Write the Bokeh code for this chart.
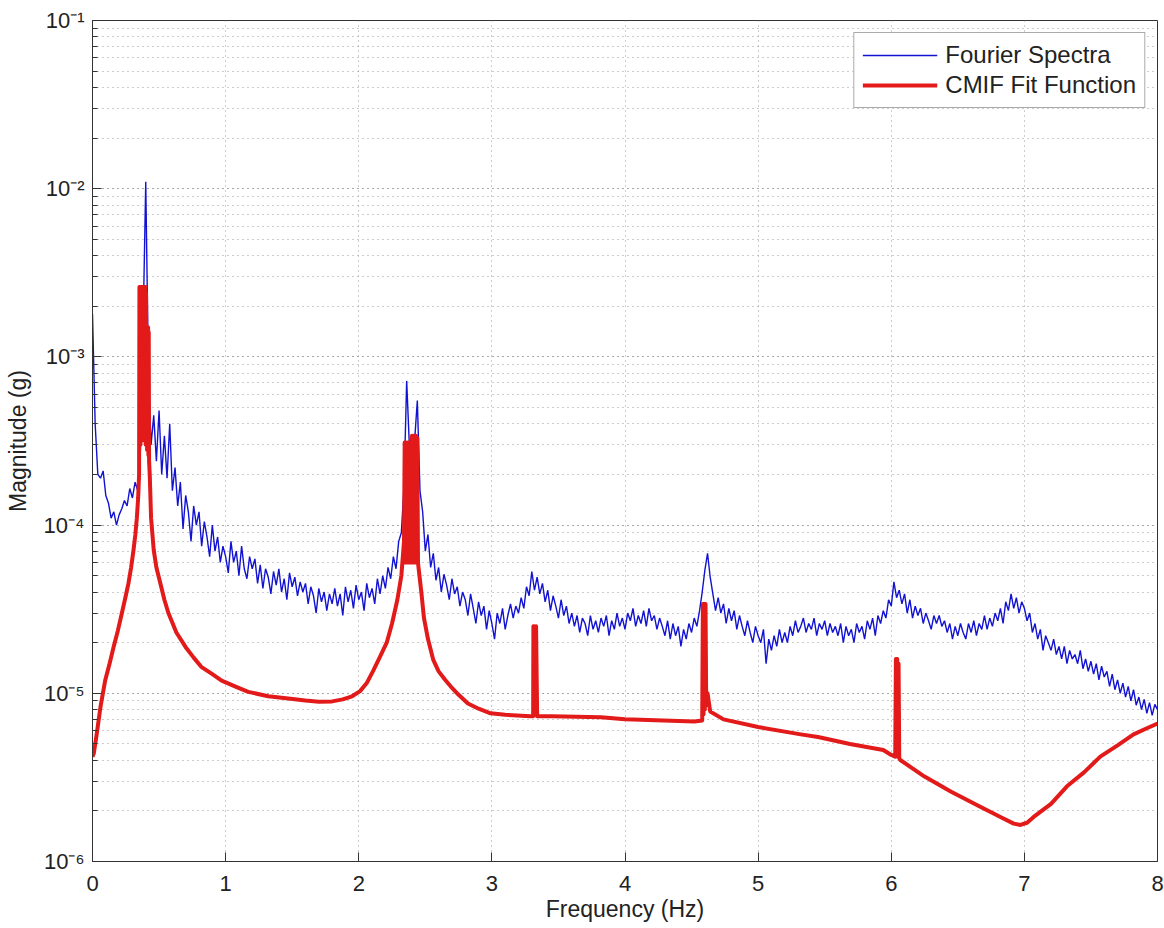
from bokeh.plotting import figure
from bokeh.models import (Range1d, CustomJSTickFormatter, Legend, LegendItem,
                          FixedTicker, LogTicker)
from bokeh.embed import file_html
from bokeh.resources import INLINE

# ---------------- data ----------------
x_tick_values = [0, 1, 2, 3, 4, 5, 6, 7, 8]
fourier_step_hz = 0.02
fourier_mag = [
    1.8e-3, 4.0e-4, 2.0e-4, 1.9e-4, 2.1e-4, 1.5e-4, 1.35e-4, 1.1e-4, 1.2e-4, 1.0e-4,
    1.15e-4, 1.25e-4, 1.4e-4, 1.3e-4, 1.65e-4, 1.45e-4, 1.8e-4, 1.6e-4, 2.8e-4, 1.5e-3,
    1.1e-2, 8.0e-4, 3.0e-4, 4.5e-4, 2.4e-4, 4.8e-4, 2.0e-4, 3.4e-4, 1.9e-4, 4.0e-4,
    1.6e-4, 2.2e-4, 1.3e-4, 1.8e-4, 9.5e-5, 1.5e-4, 1.2e-4, 8.0e-5, 1.3e-4, 1.0e-4,
    1.2e-4, 7.5e-5, 1.05e-4, 8.5e-5, 6.5e-5, 1.0e-4, 7.0e-5, 8.5e-5, 6.0e-5, 7.5e-5,
    6.5e-5, 5.2e-5, 8.0e-5, 6.0e-5, 7.0e-5, 5.0e-5, 7.5e-5, 5.5e-5, 4.8e-5, 6.5e-5,
    5.5e-5, 6.3e-5, 4.5e-5, 5.8e-5, 4.2e-5, 5.5e-5, 4.9e-5, 3.9e-5, 5.3e-5, 4.4e-5,
    5.5e-5, 4.0e-5, 4.8e-5, 3.6e-5, 5.2e-5, 4.3e-5, 4.9e-5, 3.8e-5, 4.6e-5, 4.0e-5,
    4.5e-5, 3.4e-5, 4.3e-5, 3.8e-5, 3.0e-5, 4.2e-5, 3.5e-5, 4.0e-5, 3.1e-5, 3.9e-5,
    3.4e-5, 4.2e-5, 3.3e-5, 3.9e-5, 2.9e-5, 4.3e-5, 3.5e-5, 4.1e-5, 3.2e-5, 4.4e-5,
    3.6e-5, 4.0e-5, 3.1e-5, 4.5e-5, 3.7e-5, 4.2e-5, 3.4e-5, 4.8e-5, 3.9e-5, 5.0e-5,
    4.2e-5, 5.6e-5, 4.8e-5, 6.5e-5, 5.5e-5, 8.0e-5, 9.0e-5, 1.7e-4, 7.2e-4, 3.0e-4,
    2.2e-4, 3.2e-4, 5.5e-4, 1.6e-4, 1.2e-4, 7.0e-5, 8.8e-5, 5.6e-5, 6.8e-5, 4.7e-5,
    5.6e-5, 4.0e-5, 5.1e-5, 4.4e-5, 3.6e-5, 4.8e-5, 3.9e-5, 4.3e-5, 3.3e-5, 4.0e-5,
    3.6e-5, 2.9e-5, 3.9e-5, 3.2e-5, 2.6e-5, 3.5e-5, 2.9e-5, 3.3e-5, 2.4e-5, 3.1e-5,
    2.6e-5, 2.1e-5, 3.0e-5, 2.6e-5, 3.2e-5, 2.4e-5, 2.9e-5, 3.4e-5, 2.8e-5, 3.3e-5,
    3.0e-5, 3.7e-5, 3.2e-5, 4.3e-5, 3.8e-5, 5.3e-5, 4.1e-5, 4.9e-5, 3.9e-5, 4.5e-5,
    3.5e-5, 4.1e-5, 3.1e-5, 3.8e-5, 3.3e-5, 2.8e-5, 3.6e-5, 2.9e-5, 3.3e-5, 2.6e-5,
    3.0e-5, 2.5e-5, 2.9e-5, 2.3e-5, 2.8e-5, 2.6e-5, 2.2e-5, 2.9e-5, 2.4e-5, 2.7e-5,
    2.3e-5, 2.8e-5, 2.5e-5, 2.9e-5, 2.2e-5, 2.7e-5, 2.4e-5, 3.0e-5, 2.5e-5, 2.8e-5,
    2.4e-5, 3.0e-5, 2.7e-5, 3.2e-5, 2.5e-5, 2.9e-5, 2.6e-5, 3.1e-5, 2.5e-5, 3.2e-5,
    2.7e-5, 2.9e-5, 2.4e-5, 2.8e-5, 2.5e-5, 2.2e-5, 2.7e-5, 2.1e-5, 2.6e-5, 2.2e-5,
    2.5e-5, 1.9e-5, 2.4e-5, 2.1e-5, 2.6e-5, 2.3e-5, 2.8e-5, 2.5e-5, 3.1e-5, 4.0e-5,
    5.4e-5, 6.8e-5, 4.9e-5, 3.9e-5, 3.1e-5, 3.7e-5, 3.0e-5, 3.4e-5, 2.6e-5, 3.2e-5,
    2.7e-5, 3.1e-5, 2.4e-5, 2.9e-5, 2.5e-5, 2.2e-5, 2.7e-5, 2.3e-5, 2.0e-5, 2.5e-5,
    2.2e-5, 2.0e-5, 2.4e-5, 1.5e-5, 2.1e-5, 1.8e-5, 2.2e-5, 1.9e-5, 2.4e-5, 2.0e-5,
    2.3e-5, 2.0e-5, 2.5e-5, 2.2e-5, 2.7e-5, 2.3e-5, 2.5e-5, 2.8e-5, 2.3e-5, 2.6e-5,
    2.4e-5, 2.8e-5, 2.2e-5, 2.6e-5, 2.4e-5, 2.7e-5, 2.2e-5, 2.6e-5, 2.3e-5, 2.5e-5,
    2.2e-5, 2.6e-5, 2.0e-5, 2.5e-5, 2.2e-5, 2.4e-5, 2.0e-5, 2.6e-5, 2.3e-5, 2.5e-5,
    2.1e-5, 2.7e-5, 2.4e-5, 2.8e-5, 2.2e-5, 2.9e-5, 2.6e-5, 3.1e-5, 2.8e-5, 3.6e-5,
    3.3e-5, 4.6e-5, 3.7e-5, 4.1e-5, 3.4e-5, 3.9e-5, 3.0e-5, 3.6e-5, 2.8e-5, 3.3e-5,
    2.9e-5, 3.2e-5, 2.6e-5, 3.0e-5, 2.7e-5, 2.4e-5, 2.9e-5, 2.6e-5, 2.9e-5, 2.5e-5,
    2.7e-5, 2.3e-5, 2.6e-5, 2.1e-5, 2.5e-5, 2.2e-5, 2.6e-5, 2.3e-5, 2.1e-5, 2.6e-5,
    2.3e-5, 2.7e-5, 2.2e-5, 2.6e-5, 2.4e-5, 2.9e-5, 2.4e-5, 2.8e-5, 2.5e-5, 3.0e-5,
    2.7e-5, 3.2e-5, 2.6e-5, 3.5e-5, 3.1e-5, 3.9e-5, 3.2e-5, 3.7e-5, 3.0e-5, 3.5e-5,
    3.2e-5, 2.7e-5, 3.0e-5, 2.3e-5, 2.6e-5, 2.1e-5, 2.4e-5, 1.8e-5, 2.2e-5, 2.0e-5,
    1.8e-5, 2.1e-5, 1.7e-5, 1.9e-5, 1.6e-5, 1.9e-5, 1.5e-5, 1.8e-5, 1.6e-5, 1.7e-5,
    1.5e-5, 1.8e-5, 1.4e-5, 1.6e-5, 1.35e-5, 1.55e-5, 1.3e-5, 1.5e-5, 1.2e-5, 1.45e-5,
    1.25e-5, 1.35e-5, 1.1e-5, 1.3e-5, 1.05e-5, 1.2e-5, 1.0e-5, 1.15e-5, 9.5e-6, 1.1e-5,
    9.0e-6, 1.05e-5, 8.5e-6, 9.5e-6, 8.0e-6, 9.2e-6, 7.6e-6, 8.8e-6, 7.4e-6, 8.6e-6,
    8.0e-6,
]
fourier_freq = [round(i * fourier_step_hz, 2) for i in range(len(fourier_mag))]

cmif_freq = [
    0.00, 0.01, 0.03, 0.06, 0.095, 0.13, 0.158, 0.19, 0.22, 0.25, 0.27, 0.29,
    0.308, 0.322, 0.333, 0.343, 0.35,
    0.3525, 0.355, 0.3575, 0.360, 0.3625, 0.365, 0.3675, 0.370, 0.3725, 0.375,
    0.3775, 0.380, 0.3825, 0.385, 0.3875, 0.390, 0.3925, 0.395, 0.3975, 0.400,
    0.4025, 0.405, 0.4075, 0.410, 0.4125, 0.415, 0.4175, 0.420, 0.4225, 0.425,
    0.43, 0.44, 0.46, 0.48, 0.51, 0.54, 0.57, 0.63, 0.70, 0.76, 0.82, 0.90, 0.97,
    1.07, 1.17, 1.32, 1.47, 1.60, 1.70, 1.80, 1.88,
    1.95, 2.01, 2.06, 2.11, 2.16, 2.21, 2.25, 2.29, 2.32, 2.34,
    2.345, 2.35, 2.355, 2.36, 2.365, 2.37, 2.375, 2.38, 2.385, 2.39,
    2.40, 2.405, 2.41, 2.415, 2.42, 2.425, 2.43, 2.435, 2.44, 2.445,
    2.45, 2.47, 2.49, 2.52, 2.56, 2.60, 2.65, 2.69, 2.75, 2.82, 2.90, 2.99, 3.10,
    3.29, 3.31, 3.312, 3.318, 3.322, 3.328, 3.332, 3.34,
    3.45, 3.82, 4.00, 4.52, 4.58, 4.585, 4.59, 4.595, 4.60, 4.605, 4.61,
    4.62, 4.64, 4.74, 5.00, 5.32, 5.45, 5.69, 5.94, 6.00, 6.03,
    6.035, 6.04, 6.045, 6.05, 6.055, 6.06, 6.07,
    6.25, 6.45, 6.65, 6.82, 6.92, 6.97, 7.02, 7.07, 7.20, 7.32, 7.45, 7.57, 7.70,
    7.82, 7.92, 8.00,
]
cmif_mag = [
    4.2e-6, 4.4e-6, 5.6e-6, 8.3e-6, 1.19e-5, 1.52e-5, 1.88e-5, 2.35e-5, 2.98e-5, 3.8e-5, 4.5e-5, 5.6e-5,
    7.1e-5, 8.8e-5, 1.1e-4, 1.45e-4, 2.0e-4,
    2.6e-3, 3.0e-4, 2.6e-3, 3.0e-4, 2.6e-3, 3.2e-4, 2.6e-3, 3.2e-4, 2.6e-3, 3.2e-4,
    2.6e-3, 3.2e-4, 2.6e-3, 3.2e-4, 2.6e-3, 3.2e-4, 2.6e-3, 3.2e-4, 2.6e-3, 3.0e-4,
    2.4e-3, 3.0e-4, 1.5e-3, 2.8e-4, 1.5e-3, 2.8e-4, 1.5e-3, 2.6e-4, 1.4e-3, 2.4e-4,
    2.0e-4, 1.1e-4, 7.1e-5, 5.6e-5, 4.5e-5, 3.6e-5, 3.0e-5, 2.3e-5, 1.88e-5, 1.63e-5, 1.43e-5, 1.3e-5, 1.19e-5,
    1.1e-5, 1.02e-5, 9.6e-6, 9.3e-6, 9.05e-6, 8.9e-6, 8.95e-6, 9.2e-6,
    9.6e-6, 1.03e-5, 1.15e-5, 1.37e-5, 1.65e-5, 2.0e-5, 2.6e-5, 3.6e-5, 5.0e-5, 8.0e-5,
    3.1e-4, 6.0e-5, 3.1e-4, 6.0e-5, 3.1e-4, 6.0e-5, 3.1e-4, 6.5e-5, 3.0e-4, 6.0e-5,
    3.4e-4, 6.0e-5, 3.4e-4, 6.0e-5, 3.4e-4, 6.0e-5, 3.4e-4, 6.5e-5, 3.3e-4, 6.0e-5,
    5.5e-5, 4.0e-5, 2.8e-5, 2.1e-5, 1.58e-5, 1.35e-5, 1.2e-5, 1.1e-5, 9.8e-6, 8.7e-6, 8.1e-6, 7.6e-6, 7.45e-6,
    7.3e-6, 7.3e-6, 2.5e-5, 7.5e-6, 2.5e-5, 7.5e-6, 2.5e-5, 7.3e-6,
    7.3e-6, 7.2e-6, 7.0e-6, 6.8e-6, 6.9e-6, 3.4e-5, 7.5e-6, 3.4e-5, 8.0e-6, 3.4e-5, 8.5e-6,
    1.0e-5, 7.8e-6, 7.0e-6, 6.3e-6, 5.7e-6, 5.5e-6, 5.0e-6, 4.6e-6, 4.3e-6, 4.2e-6,
    1.6e-5, 4.3e-6, 1.6e-5, 4.2e-6, 1.5e-5, 4.1e-6, 4.0e-6,
    3.2e-6, 2.6e-6, 2.15e-6, 1.84e-6, 1.68e-6, 1.65e-6, 1.7e-6, 1.84e-6, 2.2e-6, 2.8e-6, 3.4e-6, 4.2e-6, 4.9e-6,
    5.7e-6, 6.2e-6, 6.6e-6,
]

# ---------------- figure ----------------
FONT = "Liberation Sans"

p = figure(
    x_range=Range1d(0, 8), y_range=Range1d(1e-6, 1e-1), y_axis_type="log",
    frame_width=1065, frame_height=841,
    min_border_left=92, min_border_right=7, min_border_top=20, min_border_bottom=67,
    output_backend="svg", toolbar_location=None,
    background_fill_color="white", border_fill_color="white",
)
p.outline_line_color = "#333333"
p.outline_line_width = 1

blue = p.line(fourier_freq, fourier_mag, line_color="#1212d2", line_width=1.4)
red = p.line(cmif_freq, cmif_mag, line_color="#e31a1a", line_width=4, line_join="round")

# grid (MATLAB style dotted)
for g in (p.xgrid, p.ygrid):
    g.grid_line_color = "#9a9a9a"
    g.grid_line_dash = "1 4"
    g.grid_line_width = 1
p.ygrid.minor_grid_line_color = "#9a9a9a"
p.ygrid.minor_grid_line_dash = "1 4"
p.ygrid.minor_grid_line_width = 1

# axes
p.xaxis.ticker = FixedTicker(ticks=x_tick_values)
p.yaxis.ticker = LogTicker(num_minor_ticks=10)

sup_js = """
const sup = {"-":"\u207b","0":"\u2070","1":"\u00b9","2":"\u00b2","3":"\u00b3","4":"\u2074",
             "5":"\u2075","6":"\u2076","7":"\u2077","8":"\u2078","9":"\u2079"};
const e = Math.round(Math.log10(tick));
return "10" + String(e).split("").map(c => sup[c]).join("");
"""
p.yaxis.formatter = CustomJSTickFormatter(code=sup_js)

for ax in (p.xaxis[0], p.yaxis[0]):
    ax.axis_line_color = "#333333"
    ax.major_tick_line_color = "#333333"
    ax.minor_tick_line_color = "#333333"
    ax.major_tick_in = 9
    ax.major_tick_out = 0
    ax.minor_tick_out = 0
    ax.major_label_text_font = FONT
    ax.major_label_text_font_size = "22px"
    ax.major_label_text_color = "#222222"
    ax.axis_label_text_font = FONT
    ax.axis_label_text_font_size = "23px"
    ax.axis_label_text_font_style = "normal"
    ax.axis_label_text_color = "#222222"

p.xaxis.minor_tick_in = 0
p.yaxis.minor_tick_in = 5
p.xaxis.axis_label = "Frequency (Hz)"
p.yaxis.axis_label = "Magnitude (g)"
p.xaxis.major_label_standoff = 14
p.xaxis.axis_label_standoff = 2
p.yaxis.major_label_standoff = 8
p.yaxis.axis_label_standoff = 10

legend = Legend(
    items=[LegendItem(label="Fourier Spectra", renderers=[blue]),
           LegendItem(label="CMIF Fit Function", renderers=[red])],
    location="top_right", margin=12, padding=8, spacing=2,
    glyph_width=75, glyph_height=26, label_height=26, label_standoff=8,
    label_text_font=FONT, label_text_font_size="24px", label_text_color="#222222",
    border_line_color="#555555", border_line_width=1,
    background_fill_color="white", background_fill_alpha=1.0,
)
p.add_layout(legend)

open("out.html", "w").write(file_html(p, INLINE))
